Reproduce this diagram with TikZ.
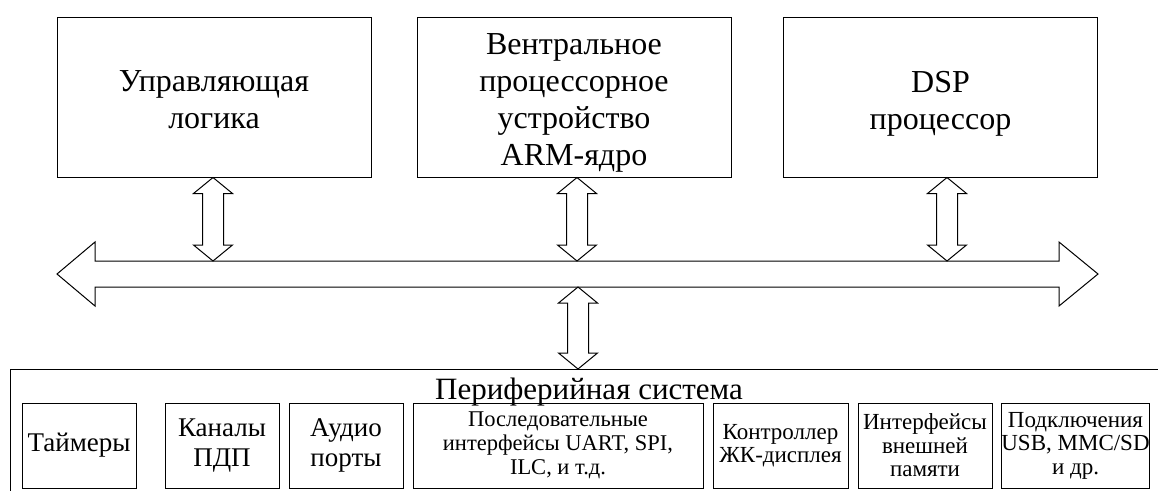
\documentclass[tikz,border=0pt]{standalone}
\usepackage{fontspec}
\setmainfont{Liberation Serif}
\usetikzlibrary{calc, positioning}

\newcommand{\busarrow}[2]{%
  \draw[outline] (#1) -- ++(19.5,16) -- ++(-9,0) -- ($(#2)+(10.5,-16)$) -- ++(9,0)
    -- (#2) -- ++(-19.5,-16) -- ++(9,0) -- ($(#1)+(-10.5,16)$) -- ++(-9,0) -- cycle;}

\begin{document}
\begin{tikzpicture}[x=1pt, y=-1pt,
    outline/.style={line width=1pt, line join=miter},
    unit/.style={draw, line width=1pt, minimum width=314pt, minimum height=160pt, inner sep=0pt},
    unittext/.style={align=center, inner sep=0pt, font=\fontsize{32}{37}\selectfont},
    module/.style={draw, line width=1pt, minimum height=85pt, inner sep=0pt, align=center},
    bigtext/.style={font=\fontsize{27}{30}\selectfont},
    midtext/.style={font=\fontsize{23}{23.5}\selectfont},
    smalltext/.style={font=\fontsize{22.5}{24}\selectfont}]
    \useasboundingbox (0,0) rectangle (1158,490);

    \node[unit] (ctrl) at (214,97) {};
    \node[unit] (core) at (574,97) {};
    \node[unit] (dsp) at (940.5,97) {};
    \node[unittext] (ctrl-t) at ([yshift=-3pt]ctrl.center) {Управляющая\\логика};
    \node[unittext] (core-t) at ([yshift=-5.5pt]core.center) {Вентральное\\процессорное\\устройство\\ARM-ядро};
    \node[unittext] (dsp-t) at ([yshift=-6.5pt]dsp.center) {DSP\\процессор};

    \coordinate (busW) at (57,274);
    \coordinate (busE) at (1098,274);
    \draw[outline] (busW) -- ++(38,-32) -- ++(0,19) -- ($(busE)+(-39,-13)$) -- ++(0,-19)
        -- (busE) -- ++(-39,32) -- ++(0,-19) -- ($(busW)+(38,13)$) -- ++(0,19) -- cycle;
    \coordinate (busN) at (0,261);
    \coordinate (busS) at (578,287);

    \coordinate (ctrl-p) at ([xshift=-1pt]ctrl.south);
    \coordinate (core-p) at ([xshift=3pt]core.south);
    \coordinate (dsp-p) at ([xshift=6.5pt]dsp.south);
    \coordinate (ctrl-b) at (ctrl-p |- busN);
    \coordinate (core-b) at (core-p |- busN);
    \coordinate (dsp-b) at (dsp-p |- busN);
    \busarrow{ctrl-p}{ctrl-b}
    \busarrow{core-p}{core-b}
    \busarrow{dsp-p}{dsp-b}

    \node[draw, line width=1pt, anchor=north west, minimum width=1200pt, minimum height=200pt] (periph) at (10,369) {};
    \coordinate (periph-p) at (periph.north -| busS);
    \busarrow{busS}{periph-p}
    \node[anchor=base, inner sep=0pt, font=\fontsize{31}{34}\selectfont] (periph-t) at (589,399) {Периферийная система};

    \node[module, bigtext, minimum width=114pt] (tmr) at (79,445.5) {Таймеры};
    \node[module, bigtext, minimum width=114pt] (dma) at (222,445.5) {Каналы\\ПДП};
    \node[module, bigtext, minimum width=114pt] (audio) at (346,445.5) {Аудио\\порты};
    \node[module, smalltext, minimum width=290pt] (serial) at (558,445.5) {Последовательные\\интерфейсы UART, SPI,\\ILC, и т.д.};
    \node[module, midtext, minimum width=135pt] (lcd) at (780.5,445.5) {Контроллер\\ЖК-дисплея};
    \node[module, midtext, minimum width=134pt] (extmem) at (925,445.5) {Интерфейсы\\внешней\\памяти};
    \node[module, midtext, minimum width=147pt] (usb) at (1075.5,445.5) {Подключения\\USB, MMC/SD\\и др.};
\end{tikzpicture}
\end{document}
